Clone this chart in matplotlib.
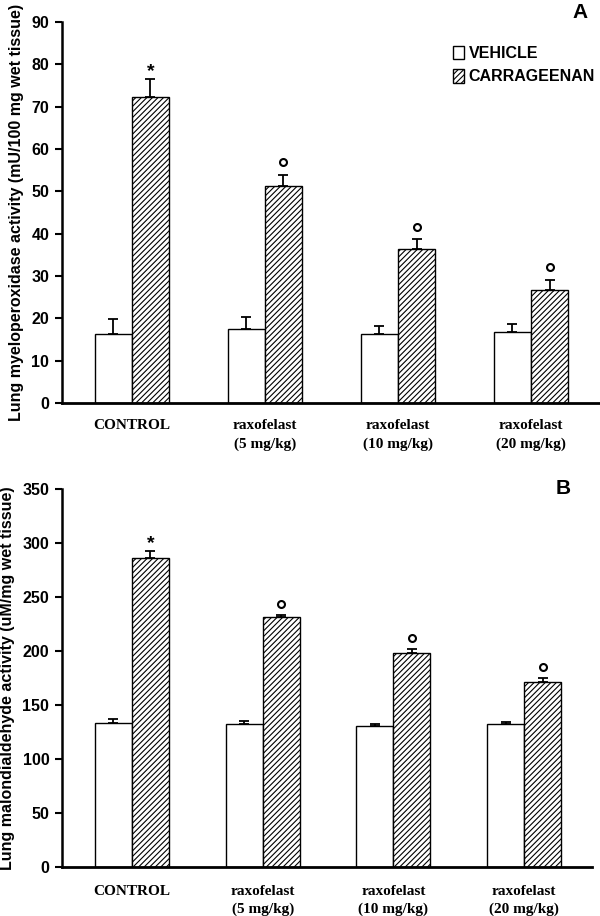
import matplotlib
matplotlib.use('Agg')
import matplotlib.pyplot as plt
from matplotlib.patches import Patch
from matplotlib.transforms import offset_copy
import numpy as np

groups = ['CONTROL', 'raxofelast\n(5 mg/kg)', 'raxofelast\n(10 mg/kg)', 'raxofelast\n(20 mg/kg)']

# panel A: myeloperoxidase
mpo_veh = [16.2, 17.4, 16.2, 16.7]
mpo_veh_err = [3.6, 3.0, 2.1, 2.0]
mpo_car = [72.2, 51.3, 36.5, 26.7]
mpo_car_err = [4.3, 2.6, 2.2, 2.4]
mpo_marks = ['*', 'o', 'o', 'o']

# panel B: malondialdehyde
mda_veh = [133.0, 132.0, 130.0, 132.4]
mda_veh_err = [3.7, 3.0, 2.5, 1.8]
mda_car = [285.7, 231.3, 198.5, 171.6]
mda_car_err = [7.1, 1.9, 3.2, 3.2]
mda_marks = ['*', 'o', 'o', 'o']

SANS = ['Liberation Sans', 'DejaVu Sans']
SERIF = ['Liberation Serif', 'DejaVu Serif']
plt.rcParams['hatch.linewidth'] = 0.8

fig = plt.figure(figsize=(6, 9.16), dpi=100)
axA = fig.add_axes([0.103, 0.560, 0.895, 0.416])
axB = fig.add_axes([0.103, 0.054, 0.884, 0.412])


def draw(ax, veh, veh_err, car, car_err, marks, w, ylim, yticks, ylabel, xlim, circ_off, xpad):
  x = np.arange(len(groups))
  ekw = dict(ecolor='black', elinewidth=1.3, capsize=3.5, capthick=1.3)
  ax.bar(x - w / 2, veh, w, color='white', edgecolor='black', linewidth=1.0,
         yerr=[np.zeros(len(veh)), veh_err], error_kw=ekw)
  ax.bar(x + w / 2, car, w, color='white', edgecolor='black', linewidth=1.0, hatch='//////',
         yerr=[np.zeros(len(car)), car_err], error_kw=ekw)
  # significance marks above the carrageenan bars
  star_tr = offset_copy(ax.transData, fig=fig, x=0, y=-1, units='points')
  circ_tr = offset_copy(ax.transData, fig=fig, x=0, y=circ_off, units='points')
  for i, m in enumerate(marks):
    top = car[i] + car_err[i]
    if m == '*':
      ax.text(x[i] + w / 2, top, '*', transform=star_tr, ha='center', va='bottom',
              fontsize=14, fontweight='bold', family=SANS)
    else:
      ax.plot(x[i] + w / 2, top, marker='o', ms=5, mfc='white', mec='black', mew=1.5,
              transform=circ_tr, clip_on=False)
  ax.set_xlim(*xlim)
  ax.set_ylim(*ylim)
  ax.set_yticks(yticks)
  ax.set_yticklabels([str(t) for t in yticks], fontsize=11.5, fontweight='bold', family=SANS)
  ax.set_xticks(x)
  ax.set_xticklabels(groups, fontsize=11, fontweight='bold', family=SERIF, linespacing=1.5)
  ax.tick_params(axis='x', length=0, pad=xpad)
  ax.tick_params(axis='y', direction='out', length=5, width=1.5, pad=4)
  for s in ['top', 'right']:
    ax.spines[s].set_visible(False)
  ax.spines['left'].set_linewidth(1.8)
  ax.spines['bottom'].set_linewidth(2.0)
  ax.set_ylabel(ylabel, fontsize=11.5, fontweight='bold', family=SANS, labelpad=5)


draw(axA, mpo_veh, mpo_veh_err, mpo_car, mpo_car_err, mpo_marks, 0.28,
     (0, 90), list(range(0, 91, 10)), 'Lung myeloperoxidase activity (mU/100 mg wet tissue)',
     (-0.526, 3.51), 9, 11.5)
draw(axB, mda_veh, mda_veh_err, mda_car, mda_car_err, mda_marks, 0.283,
     (0, 350), list(range(0, 351, 50)), 'Lung malondialdehyde activity (uM/mg wet tissue)',
     (-0.536, 3.52), 8, 13)

fig.text(0.98, 0.986, 'A', ha='right', va='center', fontsize=15, fontweight='bold', family=SANS)
fig.text(0.952, 0.467, 'B', ha='right', va='center', fontsize=15, fontweight='bold', family=SANS)

handles = [Patch(facecolor='white', edgecolor='black', linewidth=1.0, label='VEHICLE'),
           Patch(facecolor='white', edgecolor='black', linewidth=1.0, hatch='//////', label='CARRAGEENAN')]
axA.legend(handles=handles, loc='upper left', bbox_to_anchor=(0.716, 0.955), frameon=False,
           handlelength=0.7, handleheight=0.95, handletextpad=0.3, labelspacing=0.5,
           borderaxespad=0, prop=dict(family=SANS, size=11.5, weight='bold'))

fig.savefig('out.png', dpi=100)
